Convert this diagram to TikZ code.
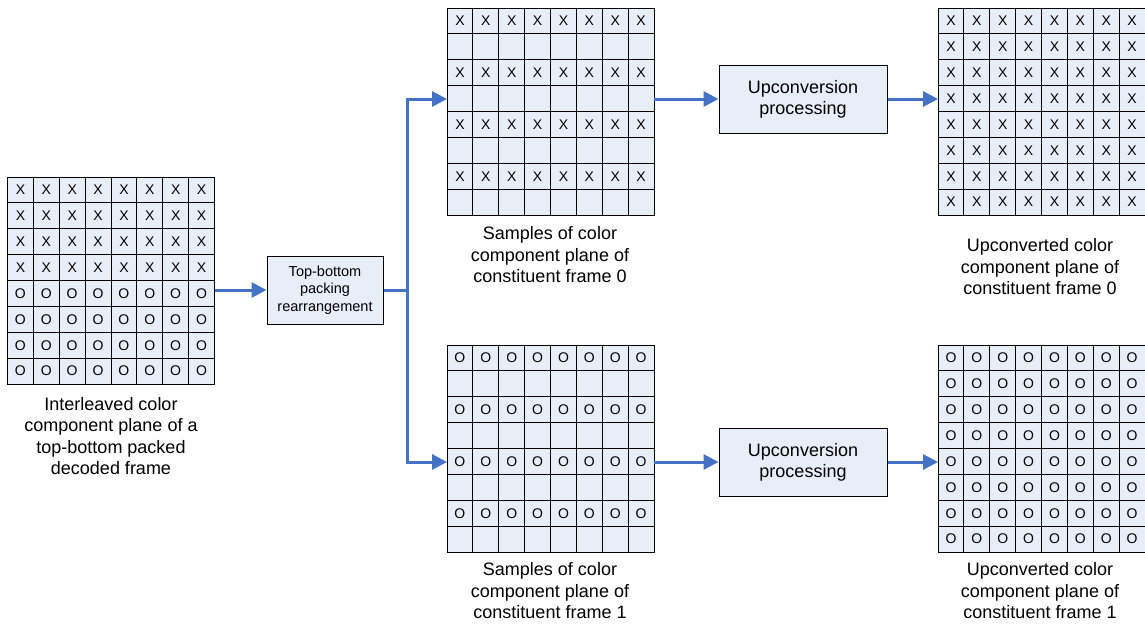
\documentclass[tikz,border=0pt]{standalone}
\usepackage{fontspec}
\setmainfont{Liberation Sans}
\usetikzlibrary{arrows.meta,calc}
\definecolor{cellfill}{RGB}{232,238,248}
\definecolor{arrowblue}{RGB}{68,114,196}
\newcommand{\cellsize}{25.875}
% #1 name, #2 center x, #3 center y, #4 row symbols
\newcommand{\drawgrid}[4]{%
  \node[gridbox] (#1) at (#2,#3) {};
  \foreach \s [count=\r from 0] in {#4} {
    \foreach \c in {0,...,7} {
      \node[cellbox] (#1-\r-\c) at ($(#1.north west)+({(\c+0.5)*\cellsize},{(\r+0.5)*\cellsize})$) {\s};
    }
  }%
}
\begin{document}
\begin{tikzpicture}[x=1pt,y=-1pt,
  gridbox/.style={minimum size=207pt,inner sep=0pt,outer sep=0pt},
  cellbox/.style={draw=black,fill=cellfill,line width=1pt,minimum size=25.875pt,inner sep=0pt,font=\fontsize{14}{14}\selectfont},
  procbox/.style={draw=black,fill=cellfill,line width=1pt,inner sep=0pt,align=center},
  lbl/.style={align=center,inner sep=0pt,font=\fontsize{18}{21.5}\selectfont},
  arr/.style={draw=arrowblue,line width=3pt,-{Triangle[length=15pt,width=15pt]}},
  link/.style={draw=arrowblue,line width=3pt}]
\useasboundingbox (0,0) rectangle (1145,625);

\drawgrid{L}{111}{280.5}{X,X,X,X,O,O,O,O}
\drawgrid{MA}{550.5}{111.5}{X,{},X,{},X,{},X,{}}
\drawgrid{MB}{550.5}{448.5}{O,{},O,{},O,{},O,{}}
\drawgrid{RA}{1041.5}{111.5}{X,X,X,X,X,X,X,X}
\drawgrid{RB}{1041.5}{448.5}{O,O,O,O,O,O,O,O}

\node[procbox,minimum width=116pt,minimum height=68pt,font=\fontsize{14.5}{17.5}\selectfont] (TB) at (325,290) {Top-bottom\\packing\\rearrangement};
\node[procbox,minimum width=168pt,minimum height=68pt,font=\fontsize{18}{21}\selectfont] (UA) at (803,99) {Upconversion\\processing};
\node[procbox,minimum width=168pt,minimum height=68pt,font=\fontsize{18}{21}\selectfont] (UB) at (803,462) {Upconversion\\processing};

\coordinate (split) at (407,290);

\draw[arr] (L.east |- TB.west) -- (TB.west);
\draw[link] (TB.east) -- (split);
\draw[arr] (split) |- (MA.west |- UA.west);
\draw[arr] (split) |- (MB.west |- UB.west);
\draw[arr] (MA.east |- UA.west) -- (UA.west);
\draw[arr] (MB.east |- UB.west) -- (UB.west);
\draw[arr] (UA.east) -- (RA.west |- UA.east);
\draw[arr] (UB.east) -- (RB.west |- UB.east);

\node[lbl] (tL) at (111,436) {Interleaved color\\component plane of a\\top-bottom packed\\decoded frame};
\node[lbl] (tMA) at (550,255) {Samples of color\\component plane of\\constituent frame 0};
\node[lbl] (tMB) at (550,591) {Samples of color\\component plane of\\constituent frame 1};
\node[lbl] (tRA) at (1040,267) {Upconverted color\\component plane of\\constituent frame 0};
\node[lbl] (tRB) at (1040,591) {Upconverted color\\component plane of\\constituent frame 1};
\end{tikzpicture}
\end{document}
